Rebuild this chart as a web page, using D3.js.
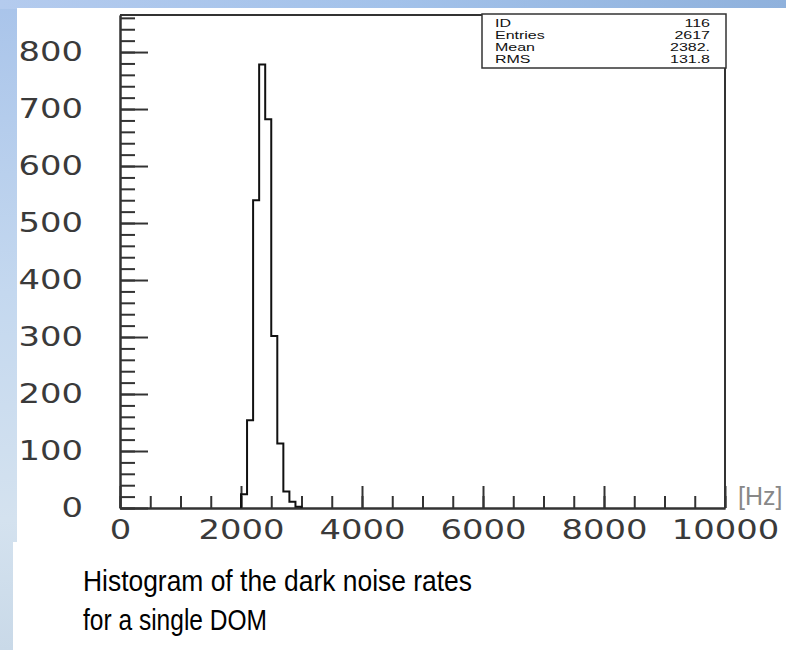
<!DOCTYPE html>
<html>
<head>
<meta charset="utf-8">
<script src="https://cdn.jsdelivr.net/npm/d3@7"></script>
<style>
    body { margin: 0; overflow: hidden; background: #fff; }
</style>
</head>
<body>
<svg width="786" height="650"></svg>
<script>
    // histogram of dark noise rates, bins of 100 Hz
    let binStarts = [2000, 2100, 2200, 2300, 2400, 2500, 2600, 2700, 2800, 2900]
    let binEnd = 3000
    let binCounts = [24, 154, 540, 778, 682, 302, 113, 29, 11, 2]

    let xTickValues = [0, 2000, 4000, 6000, 8000, 10000]
    let yTickValues = [0, 100, 200, 300, 400, 500, 600, 700, 800]

    let statsLabels = ["ID", "Entries", "Mean", "RMS"]
    let statsValues = ["116", "2617", "2382.", "131.8"]

    let unitLabel = "[Hz]"
    let titleLines = ["Histogram of the dark noise rates", "for a single DOM"]

    let frame = { left: 120, right: 725, top: 15, bottom: 508 }
    let stretch = 1.3      // the ROOT picture text is wider than normal
    let statStretch = 1.6

    let svg = d3.select("svg")
    let defs = svg.append("defs")

    // slide background (blue sky) behind the white panel
    let bgV = defs.append("linearGradient").attr("id", "bgV")
        .attr("x1", 0).attr("y1", 0).attr("x2", 0).attr("y2", 1)
    bgV.append("stop").attr("offset", "0%").attr("stop-color", "#a9c4ea")
    bgV.append("stop").attr("offset", "45%").attr("stop-color", "#c4d8ef")
    bgV.append("stop").attr("offset", "80%").attr("stop-color", "#d4e2ef")
    bgV.append("stop").attr("offset", "100%").attr("stop-color", "#c9d9e8")

    let bgH = defs.append("linearGradient").attr("id", "bgH")
        .attr("x1", 0).attr("y1", 0).attr("x2", 1).attr("y2", 0)
    bgH.append("stop").attr("offset", "0%").attr("stop-color", "#b4cbee")
    bgH.append("stop").attr("offset", "50%").attr("stop-color", "#a3c2ea")
    bgH.append("stop").attr("offset", "100%").attr("stop-color", "#8fb1dc")

    svg.append("rect").attr("width", 786).attr("height", 650).attr("fill", "url(#bgV)")
    svg.append("rect").attr("width", 786).attr("height", 9).attr("fill", "url(#bgH)")
    svg.append("rect").attr("x", 17).attr("y", 8).attr("width", 769).attr("height", 535).attr("fill", "#fff")
    svg.append("rect").attr("x", 13).attr("y", 542).attr("width", 773).attr("height", 108).attr("fill", "#fff")

    let x = d3.scaleLinear()
        .domain([0, 10000])
        .range([frame.left, frame.right])

    let y = d3.scaleLinear()
        .domain([0, 865])
        .range([frame.bottom, frame.top])

    // frame (top and right sides)
    svg.append("path")
        .attr("d", `M${frame.left},${frame.top}H${frame.right}V${frame.bottom}`)
        .attr("fill", "none")
        .attr("stroke", "#333")
        .attr("stroke-width", 2)

    // minor ticks
    let xMinor = d3.axisBottom(x).ticks(20).tickSize(-12).tickSizeOuter(0).tickFormat("")
    let yMinor = d3.axisLeft(y).ticks(40).tickSize(-15).tickSizeOuter(0).tickFormat("")

    svg.append("g")
        .attr("class", "x minor")
        .attr("transform", `translate(0, ${frame.bottom})`)
        .call(xMinor)
    svg.append("g")
        .attr("class", "y minor")
        .attr("transform", `translate(${frame.left}, 0)`)
        .call(yMinor)

    // major ticks + labels
    let xAxisSettings = d3.axisBottom(x)
        .tickValues(xTickValues)
        .tickSize(-22)
        .tickSizeOuter(0)
        .tickPadding(13)
        .tickFormat(d3.format("d"))

    let yAxisSettings = d3.axisLeft(y)
        .tickValues(yTickValues)
        .tickSize(-28)
        .tickSizeOuter(0)
        .tickPadding(37)
        .tickFormat(d3.format("d"))

    let xAxisTicks = svg.append("g")
        .attr("class", "x axis")
        .attr("transform", `translate(0, ${frame.bottom})`)
        .call(xAxisSettings)

    let yAxisTicks = svg.append("g")
        .attr("class", "y axis")
        .attr("transform", `translate(${frame.left}, 0)`)
        .call(yAxisSettings)

    svg.selectAll(".axis line, .minor line")
        .attr("stroke", "#333")
        .attr("stroke-width", 2)
    svg.selectAll(".axis path, .minor path")
        .attr("stroke", "#333")
        .attr("stroke-width", 2)

    svg.selectAll(".axis text")
        .style("font-family", "DejaVu Sans")
        .style("font-size", "26px")
        .attr("fill", "#3a3a3a")
        .attr("transform", `scale(${stretch}, 1)`)

    // undo the stretch on the anchor so labels keep their place
    yAxisTicks.selectAll("text").attr("x", -37 / stretch)

    // histogram outline
    let steps = [{ e: binStarts[0], c: 0 }]
    binStarts.forEach(function (s, i) { steps.push({ e: s, c: binCounts[i] }) })
    steps.push({ e: binEnd, c: 0 })

    let line = d3.line()
        .x(d => x(d.e))
        .y(d => y(d.c))
        .curve(d3.curveStepAfter)

    svg.append("path")
        .datum(steps)
        .attr("d", line)
        .attr("fill", "none")
        .attr("stroke", "#111")
        .attr("stroke-width", 2)

    // stats box
    let box = { x: 482, y: 14, w: 244, h: 54 }
    svg.append("rect")
        .attr("x", box.x).attr("y", box.y)
        .attr("width", box.w).attr("height", box.h)
        .attr("fill", "#fff")
        .attr("stroke", "#333")
        .attr("stroke-width", 1.5)

    let rows = svg.append("g")
        .selectAll("g")
        .data(statsLabels)
        .join("g")
        .attr("transform", (d, i) => `translate(0, ${box.y + 13 + i * 12})`)

    rows.append("text")
        .attr("x", (box.x + 13) / statStretch)
        .text(d => d)
    rows.append("text")
        .attr("x", (box.x + box.w - 16) / statStretch)
        .attr("text-anchor", "end")
        .text((d, i) => statsValues[i])
    rows.selectAll("text")
        .attr("transform", `scale(${statStretch}, 1)`)
        .style("font-family", "Liberation Sans")
        .style("font-size", "10px")
        .attr("fill", "#111")

    // unit label
    svg.append("text")
        .attr("x", 738)
        .attr("y", 505)
        .text(unitLabel)
        .style("font-family", "Liberation Sans")
        .style("font-size", "25px")
        .attr("fill", "#888")

    // caption
    let titleWidths = [389, 184]
    svg.append("g")
        .selectAll("text")
        .data(titleLines)
        .join("text")
        .attr("x", 83)
        .attr("y", (d, i) => 591 + i * 39)
        .attr("textLength", (d, i) => titleWidths[i])
        .attr("lengthAdjust", "spacingAndGlyphs")
        .text(d => d)
        .style("font-family", "Liberation Sans")
        .style("font-size", "30px")
        .attr("fill", "#000")
</script>
</body>
</html>
